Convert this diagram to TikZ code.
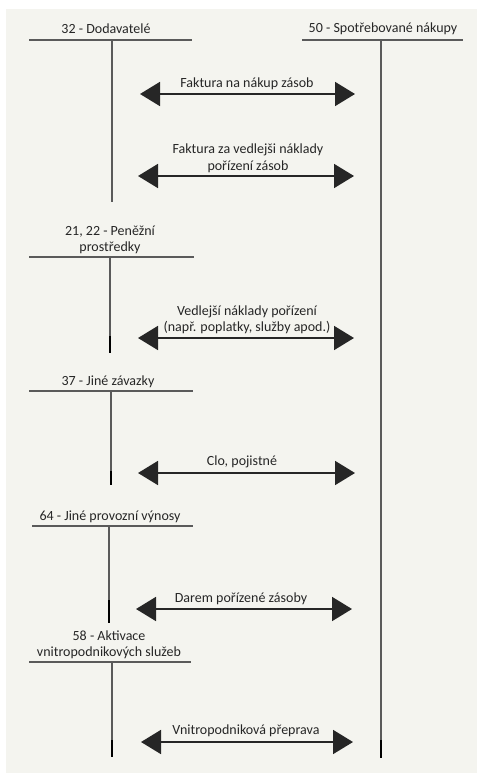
\documentclass[tikz,border=0pt]{standalone}
\usepackage{fontspec}
\setmainfont{Carlito}
\usetikzlibrary{arrows.meta}
\definecolor{panel}{HTML}{F4F4EF}
\definecolor{ink}{HTML}{262626}
\definecolor{rule}{HTML}{5A5A5A}
\tikzset{
  acct/.style={draw=rule, line width=1.4pt},
  stub/.style={draw=black, line width=2.6pt},
  flow/.style={draw=ink, line width=1.8pt,
    {Triangle[length=20pt,width=24pt]}-{Triangle[length=20pt,width=24pt]}},
  lbl/.style={text=ink, font=\fontsize{14}{16.5}\selectfont, inner sep=0pt, align=center},
}
\begin{document}
\begin{tikzpicture}[x=1pt,y=-1pt]
\useasboundingbox (0,0) rectangle (477,773);
\fill[panel] (6,9) rectangle (477,773);

% ---- 50 - Spotřebované nákupy (right account)
\node[lbl] (t50) at (383,29) {50 - Spotřebované nákupy};
\coordinate (h50l) at (302,40); \coordinate (h50r) at (463,40);
\coordinate (v50t) at (381,40); \coordinate (v50m) at (381,740); \coordinate (v50b) at (381,758);
\draw[acct] (h50l) -- (h50r);
\draw[acct] (v50t) -- (v50m);
\draw[stub] (v50m) -- (v50b);

% ---- 32 - Dodavatelé
\node[lbl] (t32) at (106,29) {32 - Dodavatelé};
\coordinate (h32l) at (29,40); \coordinate (h32r) at (192,40);
\coordinate (v32t) at (112,40); \coordinate (v32b) at (112,202);
\draw[acct] (h32l) -- (h32r);
\draw[acct] (v32t) -- (v32b);

% ---- 21, 22 - Peněžní prostředky
\node[lbl] (t21) at (110,240) {21, 22 - Peněžní\\prostředky};
\coordinate (h21l) at (29,257); \coordinate (h21r) at (194,257);
\coordinate (v21t) at (110,257); \coordinate (v21m) at (110,336); \coordinate (v21b) at (110,353);
\draw[acct] (h21l) -- (h21r);
\draw[acct] (v21t) -- (v21m);
\draw[stub] (v21m) -- (v21b);

% ---- 37 - Jiné závazky
\node[lbl] (t37) at (108,382) {37 - Jiné závazky};
\coordinate (h37l) at (29,391); \coordinate (h37r) at (193,391);
\coordinate (v37t) at (111,391); \coordinate (v37m) at (111,471); \coordinate (v37b) at (111,485);
\draw[acct] (h37l) -- (h37r);
\draw[acct] (v37t) -- (v37m);
\draw[stub] (v37m) -- (v37b);

% ---- 64 - Jiné provozní výnosy
\node[lbl] (t64) at (110,517) {64 - Jiné provozní výnosy};
\coordinate (h64l) at (32,526); \coordinate (h64r) at (193,526);
\coordinate (v64t) at (109,526); \coordinate (v64m) at (109,600); \coordinate (v64b) at (109,623);
\draw[acct] (h64l) -- (h64r);
\draw[acct] (v64t) -- (v64m);
\draw[stub] (v64m) -- (v64b);

% ---- 58 - Aktivace vnitropodnikových služeb
\node[lbl] (t58) at (109,645) {58 - Aktivace\\vnitropodnikových služeb};
\coordinate (h58l) at (29,662); \coordinate (h58r) at (191,662);
\coordinate (v58t) at (112,662); \coordinate (v58m) at (112,740); \coordinate (v58b) at (112,757);
\draw[acct] (h58l) -- (h58r);
\draw[acct] (v58t) -- (v58m);
\draw[stub] (v58m) -- (v58b);

% ---- flows between the accounts
\coordinate (f1l) at (140,94);  \coordinate (f1r) at (355,94);
\draw[flow] (f1l) -- (f1r);
\node[lbl] (l1) at (247,84) {Faktura na nákup zásob};

\coordinate (f2l) at (138,176); \coordinate (f2r) at (354,176);
\draw[flow] (f2l) -- (f2r);
\node[lbl] (l2) at (248,158.5) {Faktura za vedlejši náklady\\pořízení zásob};

\coordinate (f3l) at (138,338); \coordinate (f3r) at (354,338);
\draw[flow] (f3l) -- (f3r);
\node[lbl] (l3) at (247,320) {Vedlejší náklady pořízení\\(např. poplatky, služby apod.)};

\coordinate (f4l) at (138,473); \coordinate (f4r) at (355,473);
\draw[flow] (f4l) -- (f4r);
\node[lbl] (l4) at (242,462) {Clo, pojistné};

\coordinate (f5l) at (136,609); \coordinate (f5r) at (352,609);
\draw[flow] (f5l) -- (f5r);
\node[lbl] (l5) at (241,599) {Darem pořízené zásoby};

\coordinate (f6l) at (141,742); \coordinate (f6r) at (353,742);
\draw[flow] (f6l) -- (f6r);
\node[lbl] (l6) at (246,731) {Vnitropodniková přeprava};
\end{tikzpicture}
\end{document}
